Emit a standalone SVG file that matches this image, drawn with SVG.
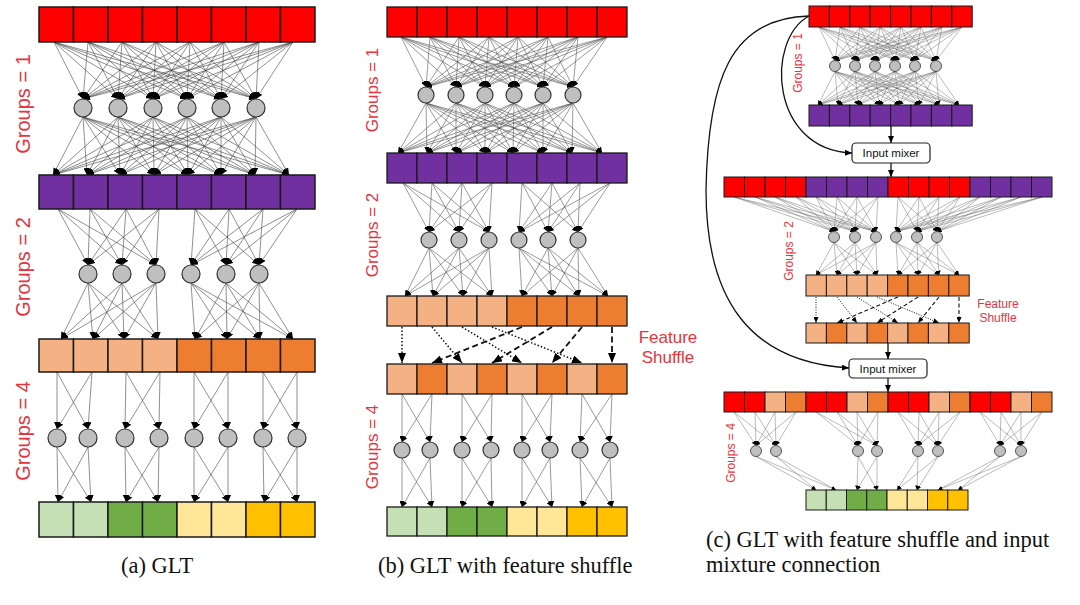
<svg xmlns="http://www.w3.org/2000/svg" width="1080" height="605" viewBox="0 0 1080 605">
<defs>
<style>
.cA rect{stroke:#1a1a1a;stroke-width:1.5}
.cB rect{stroke:#1a1a1a;stroke-width:1.3}
.cC rect{stroke:#1a1a1a;stroke-width:1}
.r{fill:#fe0000}.p{fill:#7030a0}.lo{fill:#f4b183}.o{fill:#ed7d31}.lg{fill:#c5e0b4}.g{fill:#70ad47}.ly{fill:#ffe699}.y{fill:#ffc000}
.nA circle{fill:#bfbfbf;stroke:#333;stroke-width:1.2}
.nC circle{fill:#bfbfbf;stroke:#333;stroke-width:.8}
.lA path{fill:none;stroke:#444;stroke-width:.6;marker-end:url(#mA)}
.lB path{fill:none;stroke:#555;stroke-width:.6;marker-end:url(#mB)}
.lC path{fill:none;stroke:#666;stroke-width:.45;marker-end:url(#mC)}
.dotB{fill:none;stroke:#111;stroke-width:1.5;stroke-dasharray:1.5 2;marker-end:url(#mS)}
.dashB{fill:none;stroke:#111;stroke-width:1.8;stroke-dasharray:6 3.5;marker-end:url(#mS)}
.dotC{fill:none;stroke:#111;stroke-width:1;stroke-dasharray:1 1.5;marker-end:url(#mSc)}
.dashC{fill:none;stroke:#111;stroke-width:1.1;stroke-dasharray:4 2.5;marker-end:url(#mSc)}
.cv{fill:none;stroke:#111;stroke-width:1.3;marker-end:url(#mM)}
.grp{font-family:"Liberation Sans",Arial,sans-serif;fill:#e5343d;text-anchor:middle}
.cap{font-family:"Liberation Serif","Times New Roman",serif;font-size:22.5px;fill:#111}
.mx rect{fill:#fff;stroke:#222;stroke-width:1.2}
.mx text{font-family:"Liberation Sans",Arial,sans-serif;font-size:11.5px;fill:#111;text-anchor:middle}
</style>
<marker id="mA" markerUnits="userSpaceOnUse" markerWidth="7" markerHeight="6" refX="7" refY="3" orient="auto"><path d="M0 0L7 3L0 6z" fill="#000"/></marker>
<marker id="mB" markerUnits="userSpaceOnUse" markerWidth="6" markerHeight="5" refX="6" refY="2.5" orient="auto"><path d="M0 0L6 2.5L0 5z" fill="#000"/></marker>
<marker id="mC" markerUnits="userSpaceOnUse" markerWidth="4.5" markerHeight="4" refX="4.5" refY="2" orient="auto"><path d="M0 0L4.5 2L0 4z" fill="#000"/></marker>
<marker id="mS" markerUnits="userSpaceOnUse" markerWidth="10" markerHeight="8" refX="10" refY="4" orient="auto"><path d="M0 0L10 4L0 8z" fill="#000"/></marker>
<marker id="mSc" markerUnits="userSpaceOnUse" markerWidth="6" markerHeight="5" refX="6" refY="2.5" orient="auto"><path d="M0 0L6 2.5L0 5z" fill="#000"/></marker>
<marker id="mM" markerUnits="userSpaceOnUse" markerWidth="7" markerHeight="6" refX="7" refY="3" orient="auto"><path d="M0 0L7 3L0 6z" fill="#000"/></marker>
</defs>
<rect width="1080" height="605" fill="#fff"/>

<g id="connectors">
<g class="lA">
<path d="M54 42L83 99"/><path d="M54 42L118 99"/><path d="M54 42L153 99"/><path d="M54 42L187 99"/><path d="M54 42L221 99"/><path d="M54 42L256 99"/>
<path d="M88 42L83 99"/><path d="M88 42L118 99"/><path d="M88 42L153 99"/><path d="M88 42L187 99"/><path d="M88 42L221 99"/><path d="M88 42L256 99"/>
<path d="M122 42L83 99"/><path d="M122 42L118 99"/><path d="M122 42L153 99"/><path d="M122 42L187 99"/><path d="M122 42L221 99"/><path d="M122 42L256 99"/>
<path d="M156 42L83 99"/><path d="M156 42L118 99"/><path d="M156 42L153 99"/><path d="M156 42L187 99"/><path d="M156 42L221 99"/><path d="M156 42L256 99"/>
<path d="M190 42L83 99"/><path d="M190 42L118 99"/><path d="M190 42L153 99"/><path d="M190 42L187 99"/><path d="M190 42L221 99"/><path d="M190 42L256 99"/>
<path d="M224 42L83 99"/><path d="M224 42L118 99"/><path d="M224 42L153 99"/><path d="M224 42L187 99"/><path d="M224 42L221 99"/><path d="M224 42L256 99"/>
<path d="M259 42L83 99"/><path d="M259 42L118 99"/><path d="M259 42L153 99"/><path d="M259 42L187 99"/><path d="M259 42L221 99"/><path d="M259 42L256 99"/>
<path d="M293 42L83 99"/><path d="M293 42L118 99"/><path d="M293 42L153 99"/><path d="M293 42L187 99"/><path d="M293 42L221 99"/><path d="M293 42L256 99"/>
<path d="M83 117L53 175"/><path d="M83 117L87 175"/><path d="M83 117L120 175"/><path d="M83 117L154 175"/><path d="M83 117L188 175"/><path d="M83 117L221 175"/><path d="M83 117L255 175"/><path d="M83 117L289 175"/>
<path d="M118 117L53 175"/><path d="M118 117L87 175"/><path d="M118 117L120 175"/><path d="M118 117L154 175"/><path d="M118 117L188 175"/><path d="M118 117L221 175"/><path d="M118 117L255 175"/><path d="M118 117L289 175"/>
<path d="M153 117L53 175"/><path d="M153 117L87 175"/><path d="M153 117L120 175"/><path d="M153 117L154 175"/><path d="M153 117L188 175"/><path d="M153 117L221 175"/><path d="M153 117L255 175"/><path d="M153 117L289 175"/>
<path d="M187 117L53 175"/><path d="M187 117L87 175"/><path d="M187 117L120 175"/><path d="M187 117L154 175"/><path d="M187 117L188 175"/><path d="M187 117L221 175"/><path d="M187 117L255 175"/><path d="M187 117L289 175"/>
<path d="M221 117L53 175"/><path d="M221 117L87 175"/><path d="M221 117L120 175"/><path d="M221 117L154 175"/><path d="M221 117L188 175"/><path d="M221 117L221 175"/><path d="M221 117L255 175"/><path d="M221 117L289 175"/>
<path d="M256 117L53 175"/><path d="M256 117L87 175"/><path d="M256 117L120 175"/><path d="M256 117L154 175"/><path d="M256 117L188 175"/><path d="M256 117L221 175"/><path d="M256 117L255 175"/><path d="M256 117L289 175"/>
<path d="M58 209L88 265"/><path d="M58 209L122 265"/><path d="M58 209L156 265"/>
<path d="M90 209L88 265"/><path d="M90 209L122 265"/><path d="M90 209L156 265"/>
<path d="M126 209L88 265"/><path d="M126 209L122 265"/><path d="M126 209L156 265"/>
<path d="M159 209L88 265"/><path d="M159 209L122 265"/><path d="M159 209L156 265"/>
<path d="M195 209L191 265"/><path d="M195 209L226 265"/><path d="M195 209L259 265"/>
<path d="M229 209L191 265"/><path d="M229 209L226 265"/><path d="M229 209L259 265"/>
<path d="M263 209L191 265"/><path d="M263 209L226 265"/><path d="M263 209L259 265"/>
<path d="M297 209L191 265"/><path d="M297 209L226 265"/><path d="M297 209L259 265"/>
<path d="M88 283L61 339"/><path d="M88 283L93 339"/><path d="M88 283L124 339"/><path d="M88 283L158 339"/>
<path d="M122 283L61 339"/><path d="M122 283L93 339"/><path d="M122 283L124 339"/><path d="M122 283L158 339"/>
<path d="M156 283L61 339"/><path d="M156 283L93 339"/><path d="M156 283L124 339"/><path d="M156 283L158 339"/>
<path d="M191 283L195 339"/><path d="M191 283L227 339"/><path d="M191 283L260 339"/><path d="M191 283L293 339"/>
<path d="M226 283L195 339"/><path d="M226 283L227 339"/><path d="M226 283L260 339"/><path d="M226 283L293 339"/>
<path d="M259 283L195 339"/><path d="M259 283L227 339"/><path d="M259 283L260 339"/><path d="M259 283L293 339"/>
<path d="M57 372L57 429"/><path d="M57 372L88 429"/><path d="M92 372L57 429"/><path d="M92 372L88 429"/>
<path d="M126 372L125 429"/><path d="M126 372L159 429"/><path d="M160 372L125 429"/><path d="M160 372L159 429"/>
<path d="M194 372L194 429"/><path d="M194 372L228 429"/><path d="M228 372L194 429"/><path d="M228 372L228 429"/>
<path d="M263 372L263 429"/><path d="M263 372L297 429"/><path d="M297 372L263 429"/><path d="M297 372L297 429"/>
<path d="M57 447L58 502"/><path d="M57 447L91 502"/><path d="M88 447L58 502"/><path d="M88 447L91 502"/>
<path d="M125 447L126 502"/><path d="M125 447L158 502"/><path d="M159 447L126 502"/><path d="M159 447L158 502"/>
<path d="M194 447L194 502"/><path d="M194 447L228 502"/><path d="M228 447L194 502"/><path d="M228 447L228 502"/>
<path d="M263 447L264 502"/><path d="M263 447L297 502"/><path d="M297 447L264 502"/><path d="M297 447L297 502"/>
</g>
<g class="lB">
<path d="M401 37L426 87"/><path d="M401 37L456 87"/><path d="M401 37L485 87"/><path d="M401 37L514 87"/><path d="M401 37L543 87"/><path d="M401 37L573 87"/>
<path d="M430 37L426 87"/><path d="M430 37L456 87"/><path d="M430 37L485 87"/><path d="M430 37L514 87"/><path d="M430 37L543 87"/><path d="M430 37L573 87"/>
<path d="M459 37L426 87"/><path d="M459 37L456 87"/><path d="M459 37L485 87"/><path d="M459 37L514 87"/><path d="M459 37L543 87"/><path d="M459 37L573 87"/>
<path d="M489 37L426 87"/><path d="M489 37L456 87"/><path d="M489 37L485 87"/><path d="M489 37L514 87"/><path d="M489 37L543 87"/><path d="M489 37L573 87"/>
<path d="M518 37L426 87"/><path d="M518 37L456 87"/><path d="M518 37L485 87"/><path d="M518 37L514 87"/><path d="M518 37L543 87"/><path d="M518 37L573 87"/>
<path d="M548 37L426 87"/><path d="M548 37L456 87"/><path d="M548 37L485 87"/><path d="M548 37L514 87"/><path d="M548 37L543 87"/><path d="M548 37L573 87"/>
<path d="M578 37L426 87"/><path d="M578 37L456 87"/><path d="M578 37L485 87"/><path d="M578 37L514 87"/><path d="M578 37L543 87"/><path d="M578 37L573 87"/>
<path d="M607 37L426 87"/><path d="M607 37L456 87"/><path d="M607 37L485 87"/><path d="M607 37L514 87"/><path d="M607 37L543 87"/><path d="M607 37L573 87"/>
<path d="M426 103L398 153"/><path d="M426 103L427 153"/><path d="M426 103L456 153"/><path d="M426 103L485 153"/><path d="M426 103L513 153"/><path d="M426 103L543 153"/><path d="M426 103L572 153"/><path d="M426 103L602 153"/>
<path d="M456 103L398 153"/><path d="M456 103L427 153"/><path d="M456 103L456 153"/><path d="M456 103L485 153"/><path d="M456 103L513 153"/><path d="M456 103L543 153"/><path d="M456 103L572 153"/><path d="M456 103L602 153"/>
<path d="M485 103L398 153"/><path d="M485 103L427 153"/><path d="M485 103L456 153"/><path d="M485 103L485 153"/><path d="M485 103L513 153"/><path d="M485 103L543 153"/><path d="M485 103L572 153"/><path d="M485 103L602 153"/>
<path d="M514 103L398 153"/><path d="M514 103L427 153"/><path d="M514 103L456 153"/><path d="M514 103L485 153"/><path d="M514 103L513 153"/><path d="M514 103L543 153"/><path d="M514 103L572 153"/><path d="M514 103L602 153"/>
<path d="M543 103L398 153"/><path d="M543 103L427 153"/><path d="M543 103L456 153"/><path d="M543 103L485 153"/><path d="M543 103L513 153"/><path d="M543 103L543 153"/><path d="M543 103L572 153"/><path d="M543 103L602 153"/>
<path d="M573 103L398 153"/><path d="M573 103L427 153"/><path d="M573 103L456 153"/><path d="M573 103L485 153"/><path d="M573 103L513 153"/><path d="M573 103L543 153"/><path d="M573 103L572 153"/><path d="M573 103L602 153"/>
<path d="M403 183L429 232"/><path d="M403 183L459 232"/><path d="M403 183L489 232"/>
<path d="M432 183L429 232"/><path d="M432 183L459 232"/><path d="M432 183L489 232"/>
<path d="M462 183L429 232"/><path d="M462 183L459 232"/><path d="M462 183L489 232"/>
<path d="M492 183L429 232"/><path d="M492 183L459 232"/><path d="M492 183L489 232"/>
<path d="M522 183L519 232"/><path d="M522 183L548 232"/><path d="M522 183L578 232"/>
<path d="M552 183L519 232"/><path d="M552 183L548 232"/><path d="M552 183L578 232"/>
<path d="M580 183L519 232"/><path d="M580 183L548 232"/><path d="M580 183L578 232"/>
<path d="M610 183L519 232"/><path d="M610 183L548 232"/><path d="M610 183L578 232"/>
<path d="M429 248L405 296"/><path d="M429 248L433 296"/><path d="M429 248L463 296"/><path d="M429 248L492 296"/>
<path d="M459 248L405 296"/><path d="M459 248L433 296"/><path d="M459 248L463 296"/><path d="M459 248L492 296"/>
<path d="M489 248L405 296"/><path d="M489 248L433 296"/><path d="M489 248L463 296"/><path d="M489 248L492 296"/>
<path d="M519 248L522 296"/><path d="M519 248L552 296"/><path d="M519 248L579 296"/><path d="M519 248L608 296"/>
<path d="M548 248L522 296"/><path d="M548 248L552 296"/><path d="M548 248L579 296"/><path d="M548 248L608 296"/>
<path d="M578 248L522 296"/><path d="M578 248L552 296"/><path d="M578 248L579 296"/><path d="M578 248L608 296"/>
<path d="M402 394L402 442"/><path d="M402 394L430 442"/><path d="M432 394L402 442"/><path d="M432 394L430 442"/>
<path d="M462 394L462 442"/><path d="M462 394L491 442"/><path d="M492 394L462 442"/><path d="M492 394L491 442"/>
<path d="M522 394L522 442"/><path d="M522 394L550 442"/><path d="M552 394L522 442"/><path d="M552 394L550 442"/>
<path d="M582 394L580 442"/><path d="M582 394L610 442"/><path d="M612 394L580 442"/><path d="M612 394L610 442"/>
<path d="M402 458L402 507"/><path d="M402 458L432 507"/><path d="M430 458L402 507"/><path d="M430 458L432 507"/>
<path d="M462 458L462 507"/><path d="M462 458L492 507"/><path d="M491 458L462 507"/><path d="M491 458L492 507"/>
<path d="M522 458L522 507"/><path d="M522 458L552 507"/><path d="M550 458L522 507"/><path d="M550 458L552 507"/>
<path d="M580 458L582 507"/><path d="M580 458L612 507"/><path d="M610 458L582 507"/><path d="M610 458L612 507"/>
</g>
<path class="dotB" d="M402 327L402 363"/><path class="dotB" d="M432 327L462 363"/><path class="dotB" d="M462 327L522 363"/><path class="dotB" d="M492 327L582 363"/>
<path class="dashB" d="M522 327L432 363"/><path class="dashB" d="M552 327L492 363"/><path class="dashB" d="M582 327L552 363"/><path class="dashB" d="M612 327L612 363"/>
<g class="lC">
<path d="M819 27L835 60.5"/><path d="M819 27L855 60.5"/><path d="M819 27L875 60.5"/><path d="M819 27L895 60.5"/><path d="M819 27L915 60.5"/><path d="M819 27L936 60.5"/>
<path d="M840 27L835 60.5"/><path d="M840 27L855 60.5"/><path d="M840 27L875 60.5"/><path d="M840 27L895 60.5"/><path d="M840 27L915 60.5"/><path d="M840 27L936 60.5"/>
<path d="M860 27L835 60.5"/><path d="M860 27L855 60.5"/><path d="M860 27L875 60.5"/><path d="M860 27L895 60.5"/><path d="M860 27L915 60.5"/><path d="M860 27L936 60.5"/>
<path d="M880 27L835 60.5"/><path d="M880 27L855 60.5"/><path d="M880 27L875 60.5"/><path d="M880 27L895 60.5"/><path d="M880 27L915 60.5"/><path d="M880 27L936 60.5"/>
<path d="M901 27L835 60.5"/><path d="M901 27L855 60.5"/><path d="M901 27L875 60.5"/><path d="M901 27L895 60.5"/><path d="M901 27L915 60.5"/><path d="M901 27L936 60.5"/>
<path d="M921 27L835 60.5"/><path d="M921 27L855 60.5"/><path d="M921 27L875 60.5"/><path d="M921 27L895 60.5"/><path d="M921 27L915 60.5"/><path d="M921 27L936 60.5"/>
<path d="M942 27L835 60.5"/><path d="M942 27L855 60.5"/><path d="M942 27L875 60.5"/><path d="M942 27L895 60.5"/><path d="M942 27L915 60.5"/><path d="M942 27L936 60.5"/>
<path d="M962 27L835 60.5"/><path d="M962 27L855 60.5"/><path d="M962 27L875 60.5"/><path d="M962 27L895 60.5"/><path d="M962 27L915 60.5"/><path d="M962 27L936 60.5"/>
<path d="M835 71.5L818 105"/><path d="M835 71.5L838 105"/><path d="M835 71.5L858 105"/><path d="M835 71.5L879 105"/><path d="M835 71.5L899 105"/><path d="M835 71.5L919 105"/><path d="M835 71.5L939 105"/><path d="M835 71.5L959 105"/>
<path d="M855 71.5L818 105"/><path d="M855 71.5L838 105"/><path d="M855 71.5L858 105"/><path d="M855 71.5L879 105"/><path d="M855 71.5L899 105"/><path d="M855 71.5L919 105"/><path d="M855 71.5L939 105"/><path d="M855 71.5L959 105"/>
<path d="M875 71.5L818 105"/><path d="M875 71.5L838 105"/><path d="M875 71.5L858 105"/><path d="M875 71.5L879 105"/><path d="M875 71.5L899 105"/><path d="M875 71.5L919 105"/><path d="M875 71.5L939 105"/><path d="M875 71.5L959 105"/>
<path d="M895 71.5L818 105"/><path d="M895 71.5L838 105"/><path d="M895 71.5L858 105"/><path d="M895 71.5L879 105"/><path d="M895 71.5L899 105"/><path d="M895 71.5L919 105"/><path d="M895 71.5L939 105"/><path d="M895 71.5L959 105"/>
<path d="M915 71.5L818 105"/><path d="M915 71.5L838 105"/><path d="M915 71.5L858 105"/><path d="M915 71.5L879 105"/><path d="M915 71.5L899 105"/><path d="M915 71.5L919 105"/><path d="M915 71.5L939 105"/><path d="M915 71.5L959 105"/>
<path d="M936 71.5L818 105"/><path d="M936 71.5L838 105"/><path d="M936 71.5L858 105"/><path d="M936 71.5L879 105"/><path d="M936 71.5L899 105"/><path d="M936 71.5L919 105"/><path d="M936 71.5L939 105"/><path d="M936 71.5L959 105"/>
<path d="M734 197L834 231.5"/><path d="M734 197L855 231.5"/><path d="M734 197L876 231.5"/>
<path d="M755 197L834 231.5"/><path d="M755 197L855 231.5"/><path d="M755 197L876 231.5"/>
<path d="M775 197L834 231.5"/><path d="M775 197L855 231.5"/><path d="M775 197L876 231.5"/>
<path d="M796 197L834 231.5"/><path d="M796 197L855 231.5"/><path d="M796 197L876 231.5"/>
<path d="M816 197L834 231.5"/><path d="M816 197L855 231.5"/><path d="M816 197L876 231.5"/>
<path d="M837 197L834 231.5"/><path d="M837 197L855 231.5"/><path d="M837 197L876 231.5"/>
<path d="M857 197L834 231.5"/><path d="M857 197L855 231.5"/><path d="M857 197L876 231.5"/>
<path d="M878 197L834 231.5"/><path d="M878 197L855 231.5"/><path d="M878 197L876 231.5"/>
<path d="M898 197L896 231.5"/><path d="M898 197L917 231.5"/><path d="M898 197L937 231.5"/>
<path d="M919 197L896 231.5"/><path d="M919 197L917 231.5"/><path d="M919 197L937 231.5"/>
<path d="M939 197L896 231.5"/><path d="M939 197L917 231.5"/><path d="M939 197L937 231.5"/>
<path d="M960 197L896 231.5"/><path d="M960 197L917 231.5"/><path d="M960 197L937 231.5"/>
<path d="M980 197L896 231.5"/><path d="M980 197L917 231.5"/><path d="M980 197L937 231.5"/>
<path d="M1001 197L896 231.5"/><path d="M1001 197L917 231.5"/><path d="M1001 197L937 231.5"/>
<path d="M1021 197L896 231.5"/><path d="M1021 197L917 231.5"/><path d="M1021 197L937 231.5"/>
<path d="M1042 197L896 231.5"/><path d="M1042 197L917 231.5"/><path d="M1042 197L937 231.5"/>
<path d="M834 242.5L816 275"/><path d="M834 242.5L837 275"/><path d="M834 242.5L857 275"/><path d="M834 242.5L877 275"/>
<path d="M855 242.5L816 275"/><path d="M855 242.5L837 275"/><path d="M855 242.5L857 275"/><path d="M855 242.5L877 275"/>
<path d="M876 242.5L816 275"/><path d="M876 242.5L837 275"/><path d="M876 242.5L857 275"/><path d="M876 242.5L877 275"/>
<path d="M896 242.5L898 275"/><path d="M896 242.5L918 275"/><path d="M896 242.5L939 275"/><path d="M896 242.5L959 275"/>
<path d="M917 242.5L898 275"/><path d="M917 242.5L918 275"/><path d="M917 242.5L939 275"/><path d="M917 242.5L959 275"/>
<path d="M937 242.5L898 275"/><path d="M937 242.5L918 275"/><path d="M937 242.5L939 275"/><path d="M937 242.5L959 275"/>
<path d="M734 412L756 445.5"/><path d="M734 412L776 445.5"/><path d="M755 412L756 445.5"/><path d="M755 412L776 445.5"/><path d="M775 412L756 445.5"/><path d="M775 412L776 445.5"/><path d="M796 412L756 445.5"/><path d="M796 412L776 445.5"/>
<path d="M816 412L858 445.5"/><path d="M816 412L877 445.5"/><path d="M837 412L858 445.5"/><path d="M837 412L877 445.5"/><path d="M857 412L858 445.5"/><path d="M857 412L877 445.5"/><path d="M878 412L858 445.5"/><path d="M878 412L877 445.5"/>
<path d="M898 412L918 445.5"/><path d="M898 412L938 445.5"/><path d="M919 412L918 445.5"/><path d="M919 412L938 445.5"/><path d="M939 412L918 445.5"/><path d="M939 412L938 445.5"/><path d="M960 412L918 445.5"/><path d="M960 412L938 445.5"/>
<path d="M980 412L1000 445.5"/><path d="M980 412L1021 445.5"/><path d="M1001 412L1000 445.5"/><path d="M1001 412L1021 445.5"/><path d="M1021 412L1000 445.5"/><path d="M1021 412L1021 445.5"/><path d="M1042 412L1000 445.5"/><path d="M1042 412L1021 445.5"/>
<path d="M756 456.5L816 490"/><path d="M756 456.5L836 490"/><path d="M776 456.5L816 490"/><path d="M776 456.5L836 490"/>
<path d="M858 456.5L857 490"/><path d="M858 456.5L877 490"/><path d="M877 456.5L857 490"/><path d="M877 456.5L877 490"/>
<path d="M918 456.5L897 490"/><path d="M918 456.5L917 490"/><path d="M938 456.5L897 490"/><path d="M938 456.5L917 490"/>
<path d="M1000 456.5L938 490"/><path d="M1000 456.5L958 490"/><path d="M1021 456.5L938 490"/><path d="M1021 456.5L958 490"/>
</g>
<path class="dotC" d="M816 297L816 323"/><path class="dotC" d="M837 297L857 323"/><path class="dotC" d="M857 297L898 323"/><path class="dotC" d="M877 297L939 323"/>
<path class="dashC" d="M898 297L837 323"/><path class="dashC" d="M918 297L877 323"/><path class="dashC" d="M939 297L918 323"/><path class="dashC" d="M959 297L959 323"/>
<path class="cv" d="M891 126L891 143"/>
<path class="cv" d="M891 163L891 177"/>
<path class="cv" d="M888 343L888 359"/>
<path class="cv" d="M888 378L888 392"/>
<path class="cv" d="M809 16C765 40 770 150 852 153"/>
<path class="cv" d="M809 16C730 18 708 80 706 190C706 300 750 362 849 368"/>
</g>

<g id="a-input" class="cA">
<rect class="r" x="39" y="7" width="34.5" height="35"/><rect class="r" x="73.5" y="7" width="34.5" height="35"/><rect class="r" x="108" y="7" width="34.5" height="35"/><rect class="r" x="142.5" y="7" width="34.5" height="35"/><rect class="r" x="177" y="7" width="34.5" height="35"/><rect class="r" x="211.5" y="7" width="34.5" height="35"/><rect class="r" x="246" y="7" width="34.5" height="35"/><rect class="r" x="280.5" y="7" width="34.5" height="35"/>
</g>
<g id="a-purple" class="cA">
<rect class="p" x="39" y="175" width="34.5" height="34"/><rect class="p" x="73.5" y="175" width="34.5" height="34"/><rect class="p" x="108" y="175" width="34.5" height="34"/><rect class="p" x="142.5" y="175" width="34.5" height="34"/><rect class="p" x="177" y="175" width="34.5" height="34"/><rect class="p" x="211.5" y="175" width="34.5" height="34"/><rect class="p" x="246" y="175" width="34.5" height="34"/><rect class="p" x="280.5" y="175" width="34.5" height="34"/>
</g>
<g id="a-orange" class="cA">
<rect class="lo" x="39" y="339" width="34.5" height="33"/><rect class="lo" x="73.5" y="339" width="34.5" height="33"/><rect class="lo" x="108" y="339" width="34.5" height="33"/><rect class="lo" x="142.5" y="339" width="34.5" height="33"/><rect class="o" x="177" y="339" width="34.5" height="33"/><rect class="o" x="211.5" y="339" width="34.5" height="33"/><rect class="o" x="246" y="339" width="34.5" height="33"/><rect class="o" x="280.5" y="339" width="34.5" height="33"/>
</g>
<g id="a-output" class="cA">
<rect class="lg" x="39" y="502" width="34.5" height="35"/><rect class="lg" x="73.5" y="502" width="34.5" height="35"/><rect class="g" x="108" y="502" width="34.5" height="35"/><rect class="g" x="142.5" y="502" width="34.5" height="35"/><rect class="ly" x="177" y="502" width="34.5" height="35"/><rect class="ly" x="211.5" y="502" width="34.5" height="35"/><rect class="y" x="246" y="502" width="34.5" height="35"/><rect class="y" x="280.5" y="502" width="34.5" height="35"/>
</g>
<g id="a-neurons" class="nA">
<circle cx="83" cy="108" r="9"/><circle cx="118" cy="108" r="9"/><circle cx="153" cy="108" r="9"/><circle cx="187" cy="108" r="9"/><circle cx="221" cy="108" r="9"/><circle cx="256" cy="108" r="9"/>
<circle cx="88" cy="274" r="9"/><circle cx="122" cy="274" r="9"/><circle cx="156" cy="274" r="9"/><circle cx="191" cy="274" r="9"/><circle cx="226" cy="274" r="9"/><circle cx="259" cy="274" r="9"/>
<circle cx="57" cy="438" r="9"/><circle cx="88" cy="438" r="9"/><circle cx="125" cy="438" r="9"/><circle cx="159" cy="438" r="9"/><circle cx="194" cy="438" r="9"/><circle cx="228" cy="438" r="9"/><circle cx="263" cy="438" r="9"/><circle cx="297" cy="438" r="9"/>
</g>

<g id="b-input" class="cB">
<rect class="r" x="387" y="7" width="30" height="30"/><rect class="r" x="417" y="7" width="30" height="30"/><rect class="r" x="447" y="7" width="30" height="30"/><rect class="r" x="477" y="7" width="30" height="30"/><rect class="r" x="507" y="7" width="30" height="30"/><rect class="r" x="537" y="7" width="30" height="30"/><rect class="r" x="567" y="7" width="30" height="30"/><rect class="r" x="597" y="7" width="30" height="30"/>
</g>
<g id="b-purple" class="cB">
<rect class="p" x="387" y="153" width="30" height="30"/><rect class="p" x="417" y="153" width="30" height="30"/><rect class="p" x="447" y="153" width="30" height="30"/><rect class="p" x="477" y="153" width="30" height="30"/><rect class="p" x="507" y="153" width="30" height="30"/><rect class="p" x="537" y="153" width="30" height="30"/><rect class="p" x="567" y="153" width="30" height="30"/><rect class="p" x="597" y="153" width="30" height="30"/>
</g>
<g id="b-orange" class="cB">
<rect class="lo" x="387" y="296" width="30" height="30"/><rect class="lo" x="417" y="296" width="30" height="30"/><rect class="lo" x="447" y="296" width="30" height="30"/><rect class="lo" x="477" y="296" width="30" height="30"/><rect class="o" x="507" y="296" width="30" height="30"/><rect class="o" x="537" y="296" width="30" height="30"/><rect class="o" x="567" y="296" width="30" height="30"/><rect class="o" x="597" y="296" width="30" height="30"/>
</g>
<g id="b-shuffled" class="cB">
<rect class="lo" x="387" y="364" width="30" height="30"/><rect class="o" x="417" y="364" width="30" height="30"/><rect class="lo" x="447" y="364" width="30" height="30"/><rect class="o" x="477" y="364" width="30" height="30"/><rect class="lo" x="507" y="364" width="30" height="30"/><rect class="o" x="537" y="364" width="30" height="30"/><rect class="lo" x="567" y="364" width="30" height="30"/><rect class="o" x="597" y="364" width="30" height="30"/>
</g>
<g id="b-output" class="cB">
<rect class="lg" x="387" y="507" width="30" height="29"/><rect class="lg" x="417" y="507" width="30" height="29"/><rect class="g" x="447" y="507" width="30" height="29"/><rect class="g" x="477" y="507" width="30" height="29"/><rect class="ly" x="507" y="507" width="30" height="29"/><rect class="ly" x="537" y="507" width="30" height="29"/><rect class="y" x="567" y="507" width="30" height="29"/><rect class="y" x="597" y="507" width="30" height="29"/>
</g>
<g id="b-neurons" class="nA">
<circle cx="426" cy="95" r="8"/><circle cx="456" cy="95" r="8"/><circle cx="485" cy="95" r="8"/><circle cx="514" cy="95" r="8"/><circle cx="543" cy="95" r="8"/><circle cx="573" cy="95" r="8"/>
<circle cx="429" cy="240" r="8"/><circle cx="459" cy="240" r="8"/><circle cx="489" cy="240" r="8"/><circle cx="519" cy="240" r="8"/><circle cx="548" cy="240" r="8"/><circle cx="578" cy="240" r="8"/>
<circle cx="402" cy="450" r="8"/><circle cx="430" cy="450" r="8"/><circle cx="462" cy="450" r="8"/><circle cx="491" cy="450" r="8"/><circle cx="522" cy="450" r="8"/><circle cx="550" cy="450" r="8"/><circle cx="580" cy="450" r="8"/><circle cx="610" cy="450" r="8"/>
</g>

<g id="c-input" class="cC">
<rect class="r" x="809" y="6" width="20.4" height="21"/><rect class="r" x="829.4" y="6" width="20.4" height="21"/><rect class="r" x="849.8" y="6" width="20.4" height="21"/><rect class="r" x="870.2" y="6" width="20.4" height="21"/><rect class="r" x="890.6" y="6" width="20.4" height="21"/><rect class="r" x="911" y="6" width="20.4" height="21"/><rect class="r" x="931.4" y="6" width="20.4" height="21"/><rect class="r" x="951.8" y="6" width="20.4" height="21"/>
</g>
<g id="c-purple" class="cC">
<rect class="p" x="809" y="105" width="20.4" height="21"/><rect class="p" x="829.4" y="105" width="20.4" height="21"/><rect class="p" x="849.8" y="105" width="20.4" height="21"/><rect class="p" x="870.2" y="105" width="20.4" height="21"/><rect class="p" x="890.6" y="105" width="20.4" height="21"/><rect class="p" x="911" y="105" width="20.4" height="21"/><rect class="p" x="931.4" y="105" width="20.4" height="21"/><rect class="p" x="951.8" y="105" width="20.4" height="21"/>
</g>
<g id="c-mixed1" class="cC">
<rect class="r" x="724" y="177" width="20.5" height="20"/><rect class="r" x="744.5" y="177" width="20.5" height="20"/><rect class="r" x="765" y="177" width="20.5" height="20"/><rect class="r" x="785.5" y="177" width="20.5" height="20"/><rect class="p" x="806" y="177" width="20.5" height="20"/><rect class="p" x="826.5" y="177" width="20.5" height="20"/><rect class="p" x="847" y="177" width="20.5" height="20"/><rect class="p" x="867.5" y="177" width="20.5" height="20"/><rect class="r" x="888" y="177" width="20.5" height="20"/><rect class="r" x="908.5" y="177" width="20.5" height="20"/><rect class="r" x="929" y="177" width="20.5" height="20"/><rect class="r" x="949.5" y="177" width="20.5" height="20"/><rect class="p" x="970" y="177" width="20.5" height="20"/><rect class="p" x="990.5" y="177" width="20.5" height="20"/><rect class="p" x="1011" y="177" width="20.5" height="20"/><rect class="p" x="1031.5" y="177" width="20.5" height="20"/>
</g>
<g id="c-orange" class="cC">
<rect class="lo" x="806" y="275" width="20.4" height="21"/><rect class="lo" x="826.4" y="275" width="20.4" height="21"/><rect class="lo" x="846.8" y="275" width="20.4" height="21"/><rect class="lo" x="867.2" y="275" width="20.4" height="21"/><rect class="o" x="887.6" y="275" width="20.4" height="21"/><rect class="o" x="908" y="275" width="20.4" height="21"/><rect class="o" x="928.4" y="275" width="20.4" height="21"/><rect class="o" x="948.8" y="275" width="20.4" height="21"/>
</g>
<g id="c-shuffled" class="cC">
<rect class="lo" x="806" y="323" width="20.4" height="20"/><rect class="o" x="826.4" y="323" width="20.4" height="20"/><rect class="lo" x="846.8" y="323" width="20.4" height="20"/><rect class="o" x="867.2" y="323" width="20.4" height="20"/><rect class="lo" x="887.6" y="323" width="20.4" height="20"/><rect class="o" x="908" y="323" width="20.4" height="20"/><rect class="lo" x="928.4" y="323" width="20.4" height="20"/><rect class="o" x="948.8" y="323" width="20.4" height="20"/>
</g>
<g id="c-mixed2" class="cC">
<rect class="r" x="724" y="392" width="20.5" height="20"/><rect class="r" x="744.5" y="392" width="20.5" height="20"/><rect class="lo" x="765" y="392" width="20.5" height="20"/><rect class="o" x="785.5" y="392" width="20.5" height="20"/><rect class="r" x="806" y="392" width="20.5" height="20"/><rect class="r" x="826.5" y="392" width="20.5" height="20"/><rect class="lo" x="847" y="392" width="20.5" height="20"/><rect class="o" x="867.5" y="392" width="20.5" height="20"/><rect class="r" x="888" y="392" width="20.5" height="20"/><rect class="r" x="908.5" y="392" width="20.5" height="20"/><rect class="lo" x="929" y="392" width="20.5" height="20"/><rect class="o" x="949.5" y="392" width="20.5" height="20"/><rect class="r" x="970" y="392" width="20.5" height="20"/><rect class="r" x="990.5" y="392" width="20.5" height="20"/><rect class="lo" x="1011" y="392" width="20.5" height="20"/><rect class="o" x="1031.5" y="392" width="20.5" height="20"/>
</g>
<g id="c-output" class="cC">
<rect class="lg" x="806" y="490" width="20.25" height="20"/><rect class="lg" x="826.25" y="490" width="20.25" height="20"/><rect class="g" x="846.5" y="490" width="20.25" height="20"/><rect class="g" x="866.75" y="490" width="20.25" height="20"/><rect class="ly" x="887" y="490" width="20.25" height="20"/><rect class="ly" x="907.25" y="490" width="20.25" height="20"/><rect class="y" x="927.5" y="490" width="20.25" height="20"/><rect class="y" x="947.75" y="490" width="20.25" height="20"/>
</g>
<g id="c-neurons" class="nC">
<circle cx="835" cy="66" r="5.5"/><circle cx="855" cy="66" r="5.5"/><circle cx="875" cy="66" r="5.5"/><circle cx="895" cy="66" r="5.5"/><circle cx="915" cy="66" r="5.5"/><circle cx="936" cy="66" r="5.5"/>
<circle cx="834" cy="237" r="5.5"/><circle cx="855" cy="237" r="5.5"/><circle cx="876" cy="237" r="5.5"/><circle cx="896" cy="237" r="5.5"/><circle cx="917" cy="237" r="5.5"/><circle cx="937" cy="237" r="5.5"/>
<circle cx="756" cy="451" r="5.5"/><circle cx="776" cy="451" r="5.5"/><circle cx="858" cy="451" r="5.5"/><circle cx="877" cy="451" r="5.5"/><circle cx="918" cy="451" r="5.5"/><circle cx="938" cy="451" r="5.5"/><circle cx="1000" cy="451" r="5.5"/><circle cx="1021" cy="451" r="5.5"/>
</g>
<g id="mixer1" class="mx"><rect x="852" y="143" width="78" height="20" rx="4"/><text x="891" y="157">Input mixer</text></g>
<g id="mixer2" class="mx"><rect x="849" y="359" width="78" height="19" rx="4"/><text x="888" y="372.5">Input mixer</text></g>

<g id="labels">
<text class="grp" font-size="20" transform="translate(30,104) rotate(-90)">Groups = 1</text>
<text class="grp" font-size="20" transform="translate(30,267) rotate(-90)">Groups = 2</text>
<text class="grp" font-size="20" transform="translate(30,431) rotate(-90)">Groups = 4</text>
<text class="grp" font-size="17" transform="translate(378,90) rotate(-90)">Groups = 1</text>
<text class="grp" font-size="17" transform="translate(378,235) rotate(-90)">Groups = 2</text>
<text class="grp" font-size="17" transform="translate(378,447) rotate(-90)">Groups = 4</text>
<text class="grp" font-size="12" transform="translate(802,63) rotate(-90)">Groups = 1</text>
<text class="grp" font-size="12" transform="translate(793,251) rotate(-90)">Groups = 2</text>
<text class="grp" font-size="12" transform="translate(735,453) rotate(-90)">Groups = 4</text>
<text class="grp" font-size="17" x="668" y="343">Feature</text>
<text class="grp" font-size="17" x="668" y="363">Shuffle</text>
<text class="grp" font-size="12" x="998" y="308">Feature</text>
<text class="grp" font-size="12" x="998" y="322">Shuffle</text>
<text class="cap" x="121" y="573">(a) GLT</text>
<text class="cap" x="378" y="573">(b) GLT with feature shuffle</text>
<text class="cap" x="706" y="547">(c) GLT with feature shuffle and input</text>
<text class="cap" x="706" y="572">mixture connection</text>
</g>
</svg>
